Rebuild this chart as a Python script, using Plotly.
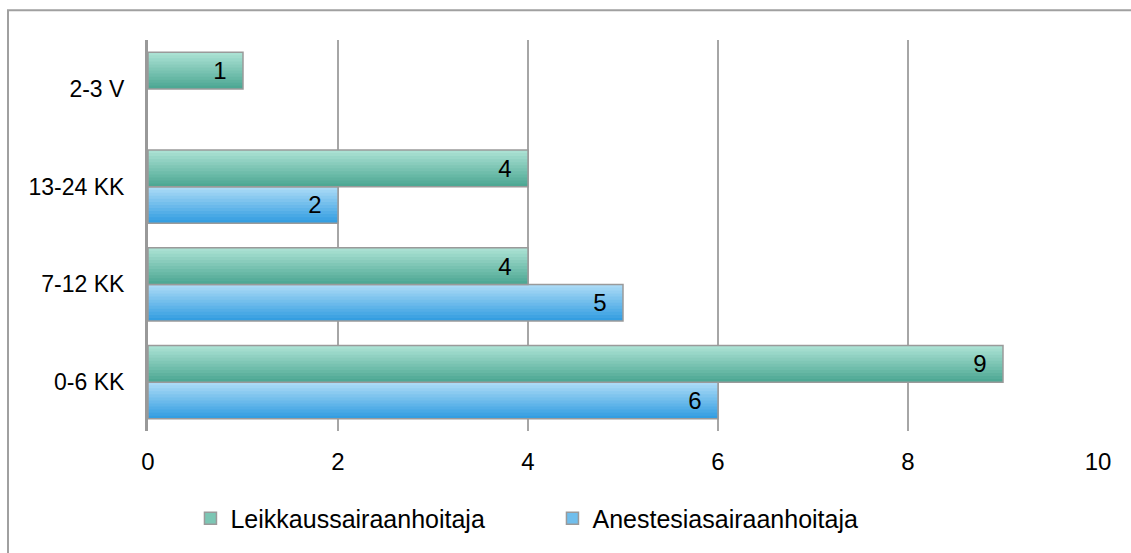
import plotly.graph_objects as go

categories = ["0-6 KK", "7-12 KK", "13-24 KK", "2-3 V"]
leikkaus = [9, 4, 4, 1]
anestesia = [6, 5, 2, None]
series_names = ["Leikkaussairaanhoitaja", "Anestesiasairaanhoitaja"]
x_ticks = [0, 2, 4, 6, 8, 10]

# gradient stops (bottom -> top)
green_stops = [(78, 168, 148), (170, 225, 211)]
blue_stops = [(52, 158, 225), (170, 218, 246)]
green_mid = "rgb(124,198,180)"
blue_mid = "rgb(112,190,236)"

N = 12
BW = 0.375
FONT = "Liberation Sans, Arial, sans-serif"
PAD = "\u00a0\u00a0"

def lerp(c0, c1, t):
    return "rgb(%d,%d,%d)" % tuple(round(a + (b - a) * t) for a, b in zip(c0, c1))

fig = go.Figure()

def add_series(values, stops, base_offset, name, mid, rank):
    for i in range(N):
        t = i / (N - 1)
        fig.add_trace(go.Bar(
            x=values, y=categories, orientation="h",
            width=BW * (N - i) / N, offset=base_offset + BW * i / N,
            marker=dict(color=lerp(stops[0], stops[1], t), line=dict(width=0)),
            showlegend=False, hoverinfo="skip",
        ))
    fig.add_trace(go.Bar(
        x=values, y=categories, orientation="h",
        width=BW, offset=base_offset,
        marker=dict(color="rgba(0,0,0,0)", line=dict(color="#9a9a9a", width=1.5)),
        text=values, texttemplate="%{x}" + PAD, textposition="inside",
        insidetextanchor="end",
        textfont=dict(family=FONT, size=24, color="black"),
        showlegend=False, name=name,
    ))
    fig.add_trace(go.Bar(
        x=[None], y=[None], orientation="h", name=name,
        marker=dict(color=mid, line=dict(color="#9a9a9a", width=1.5)),
        showlegend=True, legendrank=rank,
    ))

add_series(anestesia, blue_stops, -BW, series_names[1], blue_mid, 2)
add_series(leikkaus, green_stops, 0.0, series_names[0], green_mid, 1)

fig.update_layout(
    width=1131, height=553,
    barmode="overlay",
    paper_bgcolor="white", plot_bgcolor="white",
    margin=dict(l=148, r=33, t=40, b=118),
    font=dict(family=FONT, size=24, color="black"),
    showlegend=True,
    legend=dict(orientation="h", x=0.0447, y=-0.165, xanchor="left", yanchor="top",
                font=dict(family=FONT, size=25), entrywidth=317, itemwidth=30,
                bgcolor="rgba(0,0,0,0)"),
    shapes=[dict(type="rect", xref="paper", yref="paper",
                 x0=(8 - 148) / 950, x1=1.1, y0=-0.4, y1=(435 - 10) / 395,
                 line=dict(color="#a0a0a0", width=2), fillcolor="rgba(0,0,0,0)",
                 layer="below")],
)
fig.update_xaxes(range=[0, 10], tickvals=x_ticks, ticktext=[str(v) for v in x_ticks],
                 showgrid=True, gridcolor="#a6a6a6", gridwidth=1.5,
                 zeroline=False, showline=False, ticks="", ticklabelstandoff=14,
                 tickfont=dict(family=FONT, size=24))
fig.update_yaxes(type="category", categoryorder="array", categoryarray=categories,
                 range=[-0.5, 3.5],
                 showgrid=False, zeroline=False, showline=True, linecolor="#999999",
                 linewidth=3, ticks="", ticklabelstandoff=16,
                 tickfont=dict(family=FONT, size=23))

fig.write_html("out.html")
